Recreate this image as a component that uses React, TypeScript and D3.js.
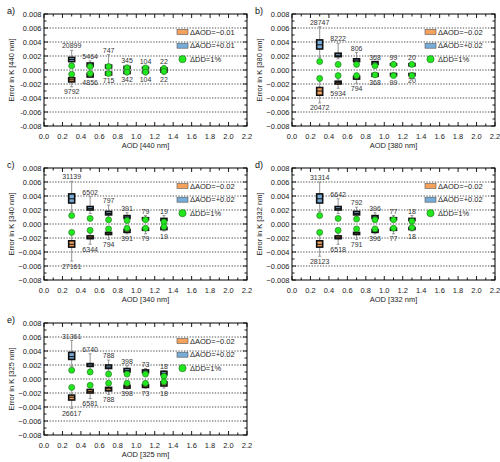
import React from "react";
import * as d3 from "d3";

// ---------- data ----------
const aodBins = [0.3, 0.5, 0.7, 0.9, 1.1, 1.3];
const xTicks = d3.range(0, 23).map((i) => i / 10);
const yTicks = d3.range(-8, 9).map((i) => i / 1000);
const gridValues = [-0.006, -0.004, -0.002, 0, 0.002, 0.004, 0.006];

// [lo whisker, q1, median, q3, hi whisker]
const aPos = [
  [0.0009, 0.0012, 0.0015, 0.0018, 0.0028],
  [0.0004, 0.0005, 0.0008, 0.001, 0.0013],
  [0.0002, 0.0003, 0.0005, 0.0007, 0.0022],
  [0.0001, 0.0002, 0.0003, 0.0005, 0.0007],
  [0.0001, 0.0002, 0.0003, 0.0004, 0.0006],
  [0.0001, 0.0001, 0.0002, 0.0003, 0.0006],
];
const aNeg = [
  [-0.0024, -0.0017, -0.0014, -0.0011, -0.0008],
  [-0.001, -0.001, -0.0008, -0.0005, -0.0003],
  [-0.0008, -0.0007, -0.0005, -0.0003, -0.0002],
  [-0.0007, -0.0005, -0.0003, -0.0002, -0.0001],
  [-0.0007, -0.0004, -0.0003, -0.0002, -0.0001],
  [-0.0006, -0.0003, -0.0002, -0.0001, -0.0001],
];
const aPosN = ["20899", "5464", "747", "345", "104", "22"];
const aNegN = ["9792", "4856", "715", "342", "104", "22"];
const aDDPos = [0.0006, 0.0005, 0.0005, 0.0003, 0.0003, 0.0002];
const aDDNeg = [-0.0006, -0.0005, -0.0005, -0.0003, -0.0003, -0.0002];

const bPos = [
  [0.0018, 0.003, 0.0036, 0.0043, 0.0062],
  [0.0016, 0.0019, 0.0021, 0.0024, 0.0038],
  [0.0009, 0.0012, 0.0014, 0.0016, 0.0025],
  [0.0006, 0.0008, 0.001, 0.0012, 0.0012],
  [0.0005, 0.0007, 0.0008, 0.0009, 0.0012],
  [0.0005, 0.0006, 0.0007, 0.0009, 0.0011],
];
const bNeg = [
  [-0.0047, -0.0036, -0.003, -0.0025, -0.0016],
  [-0.0026, -0.002, -0.0018, -0.0016, -0.0013],
  [-0.0019, -0.0013, -0.0011, -0.0009, -0.0007],
  [-0.001, -0.0009, -0.0007, -0.0005, -0.0004],
  [-0.001, -0.0008, -0.0007, -0.0005, -0.0004],
  [-0.0008, -0.0008, -0.0007, -0.0005, -0.0004],
];
const bPosN = ["28747", "8222", "806", "368", "99", "20"];
const bNegN = ["20472", "5934", "794", "368", "99", "20"];
const bDDPos = [0.0012, 0.0008, 0.0008, 0.0006, 0.0008, 0.0008];
const bDDNeg = [-0.0012, -0.0008, -0.0008, -0.0007, -0.0008, -0.0008];

const cPos = [
  [0.0018, 0.003, 0.0036, 0.0043, 0.0061],
  [0.0015, 0.002, 0.0022, 0.0025, 0.0039],
  [0.0009, 0.0013, 0.0015, 0.0018, 0.0027],
  [0.0006, 0.0008, 0.001, 0.0012, 0.0016],
  [0.0004, 0.0006, 0.0007, 0.0009, 0.0012],
  [0.0003, 0.0005, 0.0006, 0.0008, 0.0012],
];
const cNeg = [
  [-0.0053, -0.0033, -0.0029, -0.0024, -0.0015],
  [-0.0029, -0.0021, -0.0019, -0.0017, -0.0013],
  [-0.0022, -0.0015, -0.0013, -0.0012, -0.0008],
  [-0.0014, -0.0012, -0.001, -0.0008, -0.0006],
  [-0.0014, -0.0009, -0.0007, -0.0006, -0.0004],
  [-0.001, -0.0008, -0.0007, -0.0005, -0.0003],
];
const cPosN = ["31139", "6502", "797", "391", "79", "19"];
const cNegN = ["27161", "6344", "794", "391", "79", "19"];
const cDDPos = [0.0012, 0.0008, 0.0006, 0.0005, 0.0006, 0.0003];
const cDDNeg = [-0.0012, -0.0009, -0.0007, -0.0006, -0.0006, -0.0004];

const dPos = [
  [0.0018, 0.003, 0.0036, 0.0043, 0.006],
  [0.0015, 0.002, 0.0022, 0.0025, 0.0036],
  [0.0009, 0.0013, 0.0015, 0.0018, 0.0024],
  [0.0006, 0.0008, 0.001, 0.0012, 0.0016],
  [0.0004, 0.0006, 0.0007, 0.0009, 0.0012],
  [0.0003, 0.0005, 0.0006, 0.0008, 0.0012],
];
const dNeg = [
  [-0.0046, -0.0033, -0.0029, -0.0024, -0.0015],
  [-0.0029, -0.0021, -0.0019, -0.0017, -0.0013],
  [-0.0022, -0.0015, -0.0013, -0.0012, -0.0008],
  [-0.0014, -0.0012, -0.001, -0.0008, -0.0006],
  [-0.0014, -0.0009, -0.0007, -0.0006, -0.0004],
  [-0.001, -0.0008, -0.0007, -0.0005, -0.0003],
];
const dPosN = ["31314", "6642", "792", "396", "77", "18"];
const dNegN = ["28123", "6518", "791", "396", "77", "18"];
const dDDPos = [0.0012, 0.0008, 0.0007, 0.0006, 0.0006, 0.0004];
const dDDNeg = [-0.0012, -0.0009, -0.0007, -0.0007, -0.0006, -0.0005];

const ePos = [
  [0.0018, 0.0028, 0.0032, 0.0038, 0.0055],
  [0.0014, 0.0018, 0.002, 0.0022, 0.0036],
  [0.0011, 0.0015, 0.0017, 0.002, 0.0027],
  [0.0007, 0.001, 0.0012, 0.0015, 0.0019],
  [0.0006, 0.0009, 0.0011, 0.0013, 0.0015],
  [0.0003, 0.0006, 0.0008, 0.0011, 0.0012],
];
const eNeg = [
  [-0.0042, -0.003, -0.0026, -0.0023, -0.0015],
  [-0.0028, -0.002, -0.0018, -0.0015, -0.0012],
  [-0.0022, -0.0017, -0.0014, -0.0012, -0.0009],
  [-0.0014, -0.0013, -0.0011, -0.0009, -0.0006],
  [-0.0013, -0.0012, -0.001, -0.0008, -0.0005],
  [-0.0013, -0.001, -0.0007, -0.0004, -0.0002],
];
const ePosN = ["31361", "6740", "788", "398", "73", "18"];
const eNegN = ["26617", "6581", "788", "398", "73", "18"];
const eDDPos = [0.00125, 0.001, 0.0007, 0.0007, 0.0007, 0.0004];
const eDDNeg = [-0.0012, -0.0009, -0.0006, -0.0006, -0.0006, -0.0004];

// ---------- styling ----------
const FONT = "'Liberation Sans', Arial, Helvetica, sans-serif";
const ORANGE = "#f5a35c";
const BLUE = "#78acd8";
const GREEN = "#22e61e";
const W = 203;
const H = 112;

const panels = [
  { tag: "a)", nm: "440", delta: "0.01", hyphen: true, pos: aPos, neg: aNeg, posN: aPosN, negN: aNegN, ddP: aDDPos, ddN: aDDNeg, left: 44, top: 14 },
  { tag: "b)", nm: "380", delta: "0.02", hyphen: false, pos: bPos, neg: bNeg, posN: bPosN, negN: bNegN, ddP: bDDPos, ddN: bDDNeg, left: 292, top: 14 },
  { tag: "c)", nm: "340", delta: "0.02", hyphen: false, pos: cPos, neg: cNeg, posN: cPosN, negN: cNegN, ddP: cDDPos, ddN: cDDNeg, left: 44, top: 168 },
  { tag: "d)", nm: "332", delta: "0.02", hyphen: false, pos: dPos, neg: dNeg, posN: dPosN, negN: dNegN, ddP: dDDPos, ddN: dDDNeg, left: 292, top: 168 },
  { tag: "e)", nm: "325", delta: "0.02", hyphen: false, pos: ePos, neg: eNeg, posN: ePosN, negN: eNegN, ddP: eDDPos, ddN: eDDNeg, left: 44, top: 323 },
];

function Box({ cx, st, y, fill }: any) {
  const [lo, q1, med, q3, hi] = st;
  const bw = 6;
  return (
    <g>
      <line x1={cx} x2={cx} y1={y(hi)} y2={y(q3)} stroke="#8a8a8a" strokeWidth={0.9} />
      <line x1={cx} x2={cx} y1={y(q1)} y2={y(lo)} stroke="#8a8a8a" strokeWidth={0.9} />
      <line x1={cx - 1.5} x2={cx + 1.5} y1={y(hi)} y2={y(hi)} stroke="#8a8a8a" strokeWidth={0.9} />
      <line x1={cx - 1.5} x2={cx + 1.5} y1={y(lo)} y2={y(lo)} stroke="#8a8a8a" strokeWidth={0.9} />
      <rect x={cx - bw / 2} y={y(q3)} width={bw} height={Math.max(1, y(q1) - y(q3))} fill={fill} stroke="#111" strokeWidth={1.6} />
      <line x1={cx - bw / 2} x2={cx + bw / 2} y1={y(med)} y2={y(med)} stroke="#111" strokeWidth={1} />
    </g>
  );
}

function Panel({ p }: any) {
  const { left, top } = p;
  const x = d3.scaleLinear().domain([0, 2.2]).range([left, left + W]);
  const y = d3.scaleLinear().domain([-0.008, 0.008]).range([top + H, top]);
  const fmtY = (v: number) => {
    const s = d3.format(".3f")(Math.abs(v) < 1e-12 ? 0 : v);
    return p.hyphen ? s.replace("\u2212", "-") : s;
  };
  const fmtX = d3.format(".1f");
  const isMajorX = (v: number) => Math.abs(Math.round(v * 10) % 2) === 0;
  const isMajorY = (v: number) => Math.abs(Math.round(v * 1000) % 2) === 0;
  const fs = 7.5;
  return (
    <g fontFamily={FONT}>
      {gridValues.map((g) => (
        <line key={"g" + g} x1={x(0)} x2={x(2.2)} y1={y(g)} y2={y(g)} stroke="#222" strokeWidth={0.8} strokeDasharray="1.3 1.5" />
      ))}
      <rect x={x(0)} y={y(0.008)} width={W} height={H} fill="none" stroke="#000" strokeWidth={1} />
      {xTicks.map((v) => {
        const len = isMajorX(v) ? 4 : 2.5;
        return (
          <g key={"xt" + v}>
            <line x1={x(v)} x2={x(v)} y1={top + H} y2={top + H - len} stroke="#000" strokeWidth={0.9} />
            <line x1={x(v)} x2={x(v)} y1={top} y2={top + len} stroke="#000" strokeWidth={0.9} />
            {isMajorX(v) && (
              <text x={x(v)} y={top + H + 12.5} fontSize={fs} textAnchor="middle" fill="#222">
                {fmtX(v)}
              </text>
            )}
          </g>
        );
      })}
      {yTicks.map((v) => {
        const len = isMajorY(v) ? 4 : 2.5;
        return (
          <g key={"yt" + v}>
            <line x1={left} x2={left + len} y1={y(v)} y2={y(v)} stroke="#000" strokeWidth={0.9} />
            <line x1={left + W} x2={left + W - len} y1={y(v)} y2={y(v)} stroke="#000" strokeWidth={0.9} />
            {isMajorY(v) && (
              <text x={left - 2.5} y={y(v) + 2.7} fontSize={fs} textAnchor="end" fill="#222">
                {fmtY(v)}
              </text>
            )}
          </g>
        );
      })}
      <text x={left + W / 2} y={top + H + 21.5} fontSize={fs} textAnchor="middle" fill="#222">
        {`AOD [${p.nm} nm]`}
      </text>
      <text
        transform={`translate(${left - 30.5},${top + H / 2}) rotate(-90)`}
        fontSize={fs}
        textAnchor="middle"
        fill="#222"
      >
        {`Error in K [${p.nm} nm]`}
      </text>
      <text x={left - 37} y={top} fontSize={9} fill="#111">
        {p.tag}
      </text>
      {aodBins.map((a, i) => (
        <g key={"b" + i}>
          <Box cx={x(a)} st={p.neg[i]} y={y} fill={ORANGE} />
          <Box cx={x(a)} st={p.pos[i]} y={y} fill={BLUE} />
        </g>
      ))}
      {aodBins.map((a, i) => (
        <g key={"dd" + i}>
          <circle cx={x(a)} cy={y(p.ddP[i])} r={3} fill={GREEN} stroke="#1d6b1d" strokeWidth={0.6} />
          <circle cx={x(a)} cy={y(p.ddN[i])} r={3} fill={GREEN} stroke="#1d6b1d" strokeWidth={0.6} />
        </g>
      ))}
      {aodBins.map((a, i) => (
        <g key={"n" + i} fontSize={7} fill="#333" textAnchor="middle">
          <text x={x(a)} y={y(p.pos[i][4]) - 2}>{p.posN[i]}</text>
          <text x={x(a)} y={y(p.neg[i][0]) + 7.5}>{p.negN[i]}</text>
        </g>
      ))}
      <g fontSize={fs} fill="#222">
        <rect x={left + 133} y={top + 15.5} width={11} height={5} fill={ORANGE} stroke="#555" strokeWidth={0.6} />
        <text x={left + 146} y={top + 20.7}>{`\u0394AOD=\u2212${p.delta}`}</text>
        <rect x={left + 133} y={top + 29.2} width={11} height={5} fill={BLUE} stroke="#555" strokeWidth={0.6} />
        <text x={left + 146} y={top + 34.4}>{`\u0394AOD=+${p.delta}`}</text>
        <circle cx={left + 138.5} cy={top + 45.2} r={3.6} fill={GREEN} stroke="#1d6b1d" strokeWidth={0.6} />
        <text x={left + 146} y={top + 48}>{"\u0394DD=1%"}</text>
      </g>
    </g>
  );
}

export default function App() {
  return (
    <svg
      width={500}
      height={462}
      viewBox="0 0 500 462"
      style={{ position: "absolute", left: 0, top: 0, background: "#fff" }}
    >
      <rect width={500} height={462} fill="#fff" />
      {panels.map((p) => (
        <Panel key={p.tag} p={p} />
      ))}
    </svg>
  );
}
